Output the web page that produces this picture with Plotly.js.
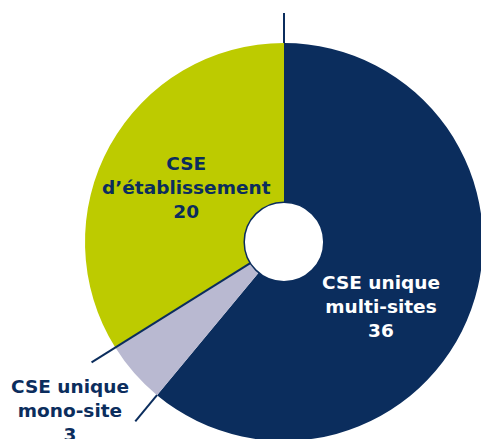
<!DOCTYPE html>
<html>
<head>
<meta charset="utf-8">
<script src="https://cdn.plot.ly/plotly-3.0.1.min.js"></script>
<style>
html,body{margin:0;padding:0;overflow:hidden;background:#fff;}
#chart{width:490px;height:445px;}
</style>
</head>
<body>
<div id="chart"></div>
<script>
// Data
var categories = ["CSE unique multi-sites", "CSE unique mono-site", "CSE d’établissement"];
var values = [36, 3, 20];
var labelLines = [["CSE unique", "multi-sites"], ["CSE unique", "mono-site"], ["CSE", "d’établissement"]];

var colors = ["#0B2D5D", "#B9B9D1", "#BDCB00"];
var navy = "#0B2D5D";

var W = 490, H = 445;
// pie geometry in pixels
var cx = 284, cy = 242, R = 199, holeFrac = 0.2;

var total = values.reduce(function(a,b){return a+b;},0);
function toPaper(px, py){ return [px / W, 1 - py / H]; }

// leader lines along slice boundaries (start, and both edges of the small slice)
var boundaries = [0, values[0], values[0] + values[1]];
var extra = [30, 34, 28];
var inner = [R, R, R * holeFrac]; // yellow/lavender edge drawn from the hole outward
var shapes = boundaries.map(function(v, i){
  var a = v / total * 2 * Math.PI; // clockwise from top
  var dx = Math.sin(a), dy = -Math.cos(a);
  var p0 = toPaper(cx + dx * inner[i], cy + dy * inner[i]);
  var p1 = toPaper(cx + dx * (R + extra[i]), cy + dy * (R + extra[i]));
  return {type: "line", xref: "paper", yref: "paper", x0: p0[0], y0: p0[1], x1: p1[0], y1: p1[1],
          line: {color: navy, width: 2}};
});
// hole outline
var h0 = toPaper(cx - R * holeFrac, cy + R * holeFrac), h1 = toPaper(cx + R * holeFrac, cy - R * holeFrac);
shapes.push({type: "circle", xref: "paper", yref: "paper", x0: h0[0], y0: h0[1], x1: h1[0], y1: h1[1],
  line: {color: navy, width: 1.5}, fillcolor: "rgba(0,0,0,0)"});

var labelPos = [[381, 306], [70, 410], [186, 188]];
var textColors = ["#FFFFFF", navy, navy];
var annotations = categories.map(function(c, i){
  var p = toPaper(labelPos[i][0], labelPos[i][1]);
  return {
    xref: "paper", yref: "paper", x: p[0], y: p[1], xanchor: "center", yanchor: "middle",
    showarrow: false, align: "center",
    text: "<b>" + labelLines[i].join("<br>") + "<br>" + values[i] + "</b>",
    font: {family: "DejaVu Sans, sans-serif", size: 18.5, color: textColors[i]}
  };
});

var d0 = toPaper(cx - R, cy + R), d1 = toPaper(cx + R, cy - R);

var trace = {
  type: "pie",
  labels: categories,
  values: values,
  sort: false,
  direction: "clockwise",
  rotation: 0,
  hole: holeFrac,
  textinfo: "none",
  hoverinfo: "skip",
  showlegend: false,
  marker: {colors: colors, line: {width: 0}},
  domain: {x: [d0[0], d1[0]], y: [d0[1], d1[1]]}
};

var layout = {
  width: W, height: H,
  margin: {l: 0, r: 0, t: 0, b: 0},
  paper_bgcolor: "#fff",
  showlegend: false,
  shapes: shapes,
  annotations: annotations
};

Plotly.newPlot("chart", [trace], layout, {staticPlot: true, displayModeBar: false});
</script>
</body>
</html>
